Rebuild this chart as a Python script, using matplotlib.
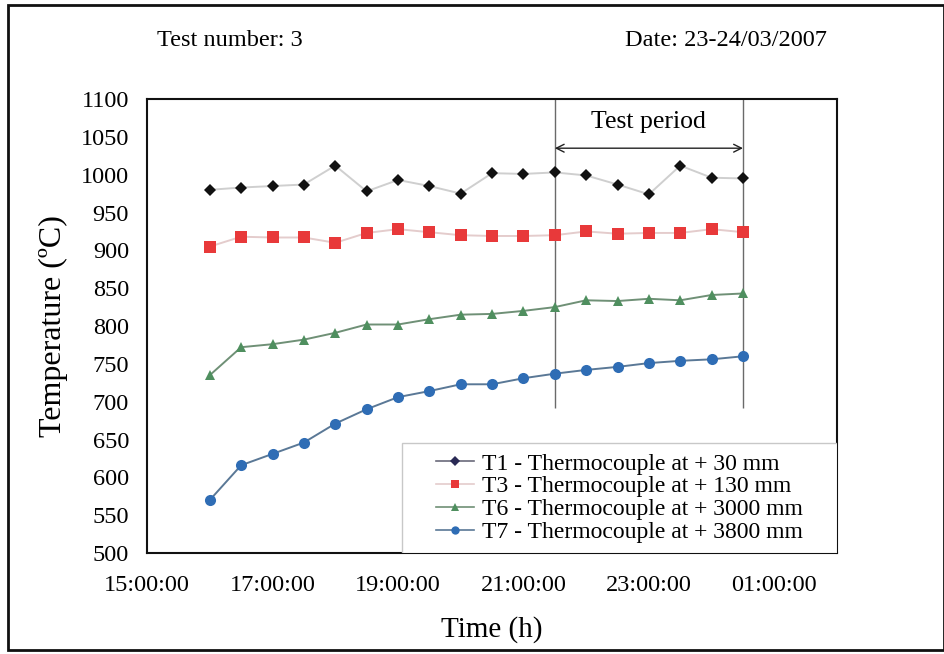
import matplotlib
matplotlib.use("Agg")
import matplotlib.pyplot as plt
from matplotlib.patches import Rectangle

# Readings every half hour, test 3 (23-24/03/2007)
times = ["16:00", "16:30", "17:00", "17:30", "18:00", "18:30", "19:00", "19:30",
         "20:00", "20:30", "21:00", "21:30", "22:00", "22:30", "23:00", "23:30",
         "00:00", "00:30"]

t1 = [980, 983, 985, 987, 1012, 978, 993, 985, 975, 1002, 1001, 1003,
      999, 987, 974, 1012, 996, 995]
t3 = [905, 918, 917, 917, 910, 923, 928, 924, 920, 919, 919, 920,
      925, 922, 923, 923, 928, 924]
t6 = [735, 772, 776, 782, 791, 802, 802, 809, 815, 816, 820, 825,
      834, 833, 836, 834, 841, 843]
t7 = [570, 616, 631, 646, 671, 690, 706, 714, 723, 723, 731, 737,
      742, 746, 751, 754, 756, 760]

labels = ["T1 - Thermocouple at + 30 mm",
          "T3 - Thermocouple at + 130 mm",
          "T6 - Thermocouple at + 3000 mm",
          "T7 - Thermocouple at + 3800 mm"]

test_start = "21:30"
test_end = "00:30"

x_ticks = ["15:00:00", "17:00:00", "19:00:00", "21:00:00", "23:00:00", "01:00:00"]
y_ticks = list(range(500, 1101, 50))


def to_hours(s):
    """'HH:MM[:SS]' -> hours from midnight of day one; early-morning times roll over."""
    parts = [int(p) for p in s.split(":")]
    h = parts[0] + parts[1] / 60.0
    if h < 12:
        h += 24
    return h


x = [to_hours(t) for t in times]

plt.rcParams["font.family"] = ["Liberation Serif", "DejaVu Serif"]

fig = plt.figure(figsize=(9.45, 6.54), dpi=100)
ax = fig.add_axes([0.1556, 0.1544, 0.7302, 0.6942])

# (values, marker, size, marker colour, line colour, legend marker colour, legend line colour)
series = [
    (t1, "D", 6.5, "#111111", "#cfcfcf", "#2a2a55", "#6a6a7a"),
    (t3, "s", 8.0, "#e8393a", "#e4cccc", "#e8393a", "#e4cccc"),
    (t6, "^", 7.0, "#4f8f5f", "#6f9076", "#4f8f5f", "#6f9076"),
    (t7, "o", 8.0, "#2f6db5", "#5a7896", "#2f6db5", "#5a7896"),
]

handles = []
for vals, mk, ms, mcol, lcol, leg_mcol, leg_lcol in series:
    ax.plot(x, vals, color=lcol, linewidth=1.4, zorder=2)
    ax.plot(x, vals, linestyle="none", marker=mk, markersize=ms,
            color=mcol, markeredgewidth=0, zorder=3)
    h, = ax.plot([], [], color=leg_lcol, linewidth=1.2, marker=mk,
                 markersize=ms * 0.75, markerfacecolor=leg_mcol,
                 markeredgewidth=0)
    handles.append(h)

# test period markers
xs, xe = to_hours(test_start), to_hours(test_end)
ax.vlines([xs, xe], 692, 1100, color="#6a6a6a", linewidth=1.0, zorder=1)
ax.annotate("", xy=(xe, 1035), xytext=(xs, 1035),
            arrowprops=dict(arrowstyle="<->", color="#222222", lw=1.0,
                            shrinkA=0, shrinkB=0, mutation_scale=14))
ax.text((xs + xe) / 2, 1070, "Test period", ha="center", va="center", fontsize=18.5)

ax.set_xlim(15, 26)
ax.set_ylim(500, 1100)
ax.set_xticks([to_hours(t) for t in x_ticks])
ax.set_xticklabels(x_ticks)
ax.set_yticks(y_ticks)
ax.tick_params(axis="both", length=0, labelsize=17.5)
ax.tick_params(axis="x", pad=16)
ax.tick_params(axis="y", pad=13)

for side in ["top", "right", "bottom", "left"]:
    ax.spines[side].set_color("#111111")
    ax.spines[side].set_linewidth(1.5)

ax.set_xlabel("Time (h)", fontsize=21, labelpad=14)
ax.set_ylabel("Temperature (ºC)", fontsize=23, labelpad=9)

# legend box in the lower right corner of the plot area
leg_box = (0.3696, 0.0, 0.6304, 0.2423)
ax.add_patch(Rectangle(leg_box[:2], leg_box[2], leg_box[3], transform=ax.transAxes,
                       facecolor="white", edgecolor="#c8c8c8", linewidth=1.0,
                       zorder=4))
leg = ax.legend(handles, labels, loc="center", bbox_to_anchor=leg_box,
                fontsize=17, frameon=False, borderaxespad=0, labelspacing=0.05,
                handlelength=1.6, handletextpad=0.35, borderpad=0.2)
leg.set_zorder(5)

fig.text(157 / 945, 1 - 41 / 654, "Test number: 3", ha="left", va="center", fontsize=17.5)
fig.text(827 / 945, 1 - 41 / 654, "Date: 23-24/03/2007", ha="right", va="center", fontsize=17.5)

# outer frame
fig.patches.append(Rectangle((8 / 945, 4 / 654), 936 / 945, 645 / 654,
                             transform=fig.transFigure, fill=False,
                             edgecolor="#111111", linewidth=2.0))

fig.savefig("out.png", dpi=100)
